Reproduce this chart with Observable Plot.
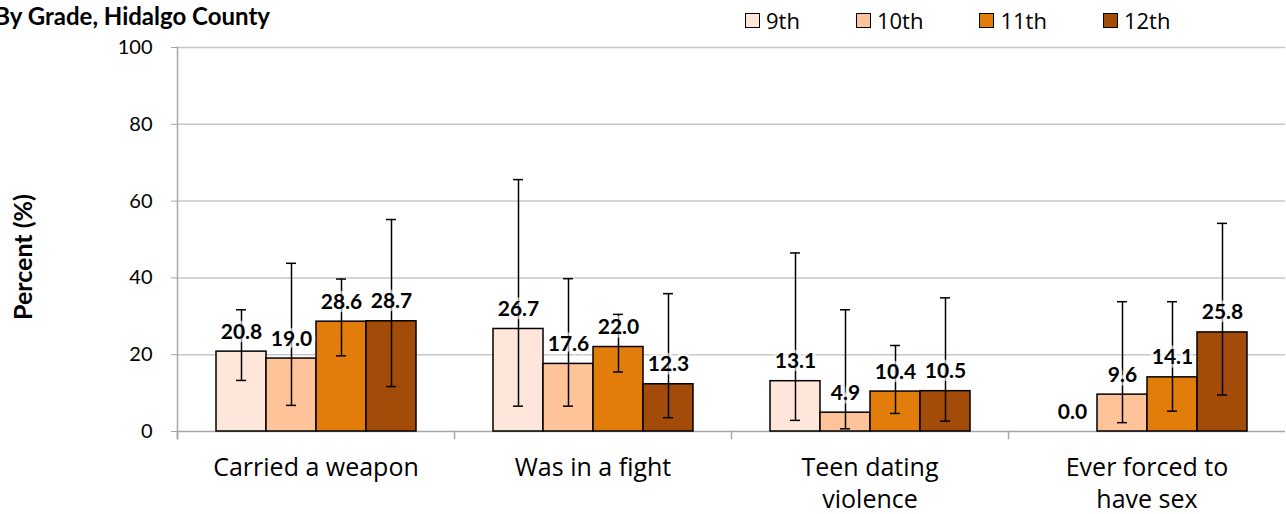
<!DOCTYPE html>
<html>
<head>
<meta charset="utf-8">
<script src="https://cdn.jsdelivr.net/npm/d3@7"></script>
<script src="https://cdn.jsdelivr.net/npm/@observablehq/plot@0.6"></script>
<style>
  body { margin: 0; background: #fff; }
  #wrap { position: relative; width: 1286px; height: 514px; overflow: hidden; background: #fff; }
  #header { position: relative; height: 36px; }
  #title { position: absolute; right: 1016px; top: 1px; font: bold 24px Lato, sans-serif; white-space: nowrap; color: #000; }
  #legend { position: absolute; left: 745px; top: 5px; display: flex; font: 22px "Open Sans", sans-serif; color: #000; }
  .item { display: flex; align-items: center; margin-right: 56px; }
  .sw { width: 13px; height: 13px; border: 1px solid #000; margin-right: 6px; }
  #ylabel { position: absolute; left: 22px; top: 257px; transform: translate(-50%, -50%) rotate(-90deg); font: bold 25px Lato, sans-serif; white-space: nowrap; color: #000; }
  svg { display: block; }
</style>
</head>
<body>
<div id="wrap">
  <div id="header">
    <div id="title">By Grade, Hidalgo County</div>
    <div id="legend"></div>
  </div>
  <div id="chart"></div>
  <div id="ylabel">Percent (%)</div>
</div>
<script>
const categories = ["Carried a weapon", "Was in a fight", "Teen dating violence", "Ever forced to have sex"];
const categoryLabels = ["Carried a weapon", "Was in a fight", "Teen dating\nviolence", "Ever forced to\nhave sex"];
const grades = ["9th", "10th", "11th", "12th"];
const colors = ["#FEE6DA", "#FFC39A", "#E27D0C", "#A34B08"];
const yTicks = [0, 20, 40, 60, 80, 100];

// percent values by grade, one entry per category
const pct9th  = [20.8, 26.7, 13.1, 0.0];
const pct10th = [19.0, 17.6, 4.9, 9.6];
const pct11th = [28.6, 22.0, 10.4, 14.1];
const pct12th = [28.7, 12.3, 10.5, 25.8];

// confidence interval bounds
const lo9th  = [13.3, 6.6, 2.9, null];
const hi9th  = [31.7, 65.6, 46.5, null];
const lo10th = [6.8, 6.6, 0.7, 2.3];
const hi10th = [43.8, 39.8, 31.7, 33.8];
const lo11th = [19.7, 15.5, 4.7, 5.3];
const hi11th = [39.7, 30.5, 22.4, 33.8];
const lo12th = [11.7, 3.6, 2.7, 9.5];
const hi12th = [55.2, 35.9, 34.8, 54.2];

const pcts = [pct9th, pct10th, pct11th, pct12th];
const los = [lo9th, lo10th, lo11th, lo12th];
const his = [hi9th, hi10th, hi11th, hi12th];

const data = [];
categories.forEach((c, i) => grades.forEach((g, j) => {
  data.push({category: c, grade: g, value: pcts[j][i], lo: los[j][i], hi: his[j][i]});
}));
const barsData = data.filter(d => d.value > 0);
const ciData = data.filter(d => d.lo != null);

// legend
const legend = document.getElementById("legend");
grades.forEach((g, j) => {
  const item = document.createElement("div");
  item.className = "item";
  const sw = document.createElement("div");
  sw.className = "sw";
  sw.style.background = colors[j];
  const t = document.createElement("span");
  t.textContent = g;
  item.appendChild(sw);
  item.appendChild(t);
  legend.appendChild(item);
});

const axisGray = "#a6a6a6";
const chart = Plot.plot({
  width: 1286,
  height: 478,
  marginTop: 11,
  marginBottom: 83,
  marginLeft: 175,
  marginRight: 0,
  fx: {domain: categories, padding: 0, axis: null},
  x: {domain: grades, paddingInner: 0, paddingOuter: 0.725, axis: null},
  y: {domain: [0, 100], axis: null},
  color: {domain: grades, range: colors},
  style: {fontFamily: "Lato, sans-serif", background: "white", overflow: "visible", color: "black"},
  marks: [
    Plot.gridY(yTicks.filter(t => t > 0), {stroke: "#c8c8c8", strokeOpacity: 1, strokeWidth: 1.5}),
    Plot.ruleY([0], {stroke: axisGray, strokeWidth: 1.5}),
    Plot.frame({anchor: "left", stroke: axisGray, strokeWidth: 1.5, insetTop: 384, insetBottom: -7}),
    Plot.frame({anchor: "left", facetAnchor: "left", stroke: axisGray, strokeWidth: 1.5, insetBottom: -7}),
    Plot.axisY({ticks: yTicks, tickSize: 6, tickPadding: 19, fontSize: 20, stroke: axisGray, fill: "black", label: null, facetAnchor: "left"}),
    Plot.barY(barsData, {fx: "category", x: "grade", y: "value", fill: "grade", stroke: "black", strokeWidth: 1.5}),
    Plot.ruleX(ciData, {fx: "category", x: "grade", y1: "lo", y2: "hi", stroke: "black", strokeWidth: 1.5}),
    Plot.tickY(ciData, {fx: "category", x: "grade", y: "lo", insetLeft: 20, insetRight: 20, stroke: "black", strokeWidth: 1.5}),
    Plot.tickY(ciData, {fx: "category", x: "grade", y: "hi", insetLeft: 20, insetRight: 20, stroke: "black", strokeWidth: 1.5}),
    Plot.text(data, {fx: "category", x: "grade", y: "value", text: d => d.value.toFixed(1), lineAnchor: "bottom", dy: -13,
      fontWeight: "bold", fontSize: 21, fill: "black", stroke: "white", strokeOpacity: 0.6, strokeWidth: 7, paintOrder: "stroke"}),
    Plot.text(categoryLabels, {fx: categories, text: categoryLabels, frameAnchor: "bottom", lineAnchor: "top", dy: 22,
      fontSize: 25, fontFamily: "Open Sans, sans-serif", lineHeight: 1.28, fill: "black"})
  ]
});
document.getElementById("chart").appendChild(chart);
</script>
</body>
</html>
